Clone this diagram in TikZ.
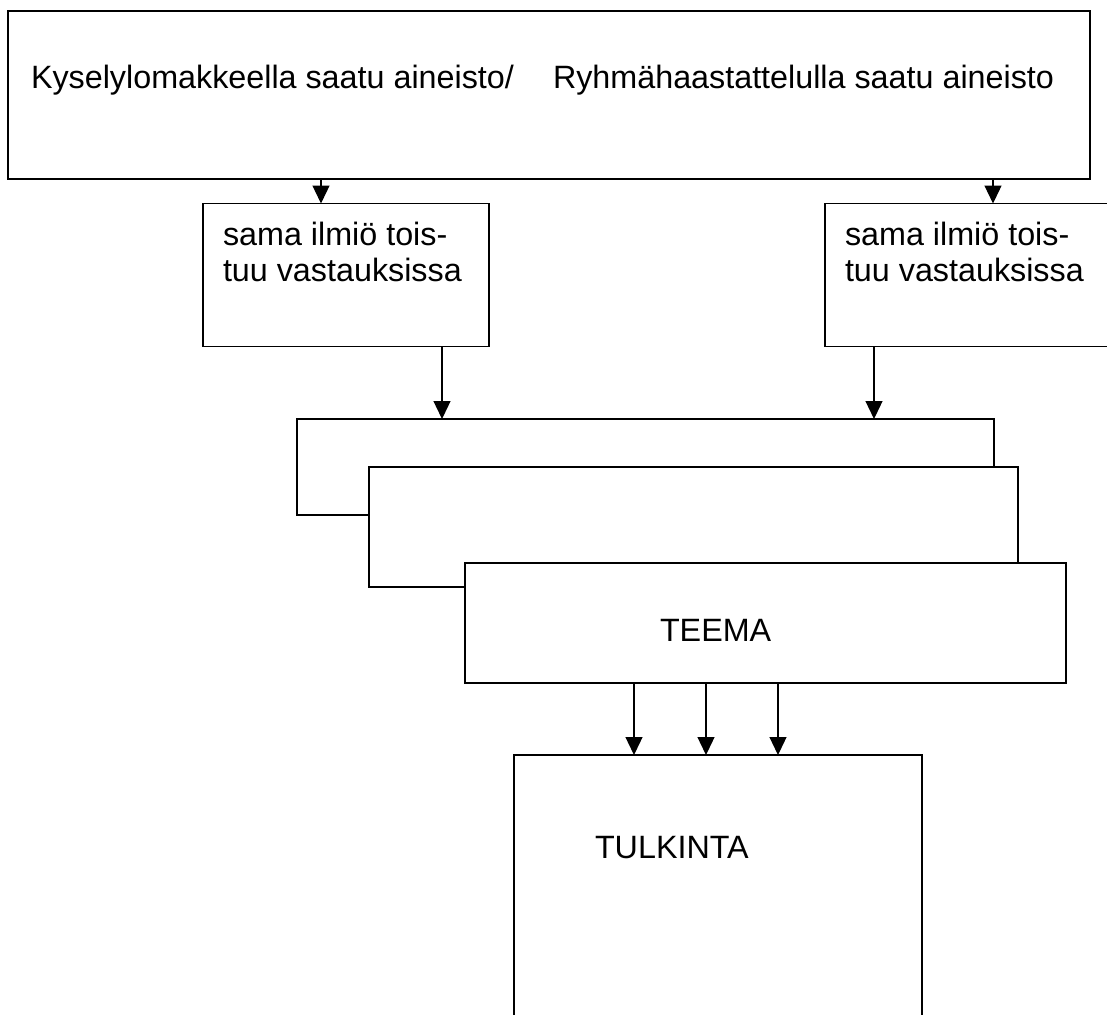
\documentclass[tikz,border=0pt]{standalone}
\usepackage{fontspec}
\setmainfont{Liberation Sans}
\usetikzlibrary{arrows.meta}
\begin{document}
\begin{tikzpicture}[x=1pt,y=-1pt,
  box/.style={draw,line width=1.3pt,fill=white,inner sep=0pt,outer sep=0pt,rectangle},
  txt/.style={inner sep=0pt,outer sep=0pt,anchor=base west,font=\fontsize{32.3}{36}\selectfont},
  arr/.style={line width=1.3pt,-{Triangle[length=18pt,width=17pt]}}]
\useasboundingbox (0,0) rectangle (1107,1014);
\clip (0,0) rectangle (1107,1014);
% top box
\node[box,minimum width=1082pt,minimum height=168pt] (top) at (549,95) {};
\node[txt] (t1) at (31,89) {Kyselylomakkeella saatu aineisto/};
\node[txt] (t2) at (553,89) {Ryhmähaastattelulla saatu aineisto};
% second row
\node[box,minimum width=286pt,minimum height=143pt] (lb) at (346,275) {};
\node[txt] (lt1) at (223,245) {sama ilmiö tois-};
\node[txt] (lt2) at (223,281) {tuu vastauksissa};
\node[box,minimum width=300pt,minimum height=143pt] (rb) at (975,275) {};
\node[txt] (rt1) at (845,245) {sama ilmiö tois-};
\node[txt] (rt2) at (845,281) {tuu vastauksissa};
% stacked boxes
\node[box,minimum width=697pt,minimum height=96pt] (s1) at (645.5,467) {};
\node[box,minimum width=649pt,minimum height=120pt] (s2) at (693.5,527) {};
\node[box,minimum width=601pt,minimum height=120pt] (s3) at (765.5,623) {};
\node[txt] (teema) at (660,641) {TEEMA};
% bottom box
\node[box,minimum width=408pt,minimum height=300pt] (tb) at (718,905) {};
\node[txt] (tulk) at (595,858) {TULKINTA};
% arrows
\draw[arr] ([xshift=-228pt]top.south) -- ([xshift=-25pt]lb.north);
\draw[arr] ([xshift=444pt]top.south) -- ([xshift=18pt]rb.north);
\draw[arr] ([xshift=96pt]lb.south) -- ([xshift=-203.5pt]s1.north);
\draw[arr] ([xshift=-101pt]rb.south) -- ([xshift=228.5pt]s1.north);
\draw[arr] ([xshift=-131.5pt]s3.south) -- ([xshift=-84pt]tb.north);
\draw[arr] ([xshift=-59.5pt]s3.south) -- ([xshift=-12pt]tb.north);
\draw[arr] ([xshift=12.5pt]s3.south) -- ([xshift=60pt]tb.north);
\end{tikzpicture}
\end{document}
